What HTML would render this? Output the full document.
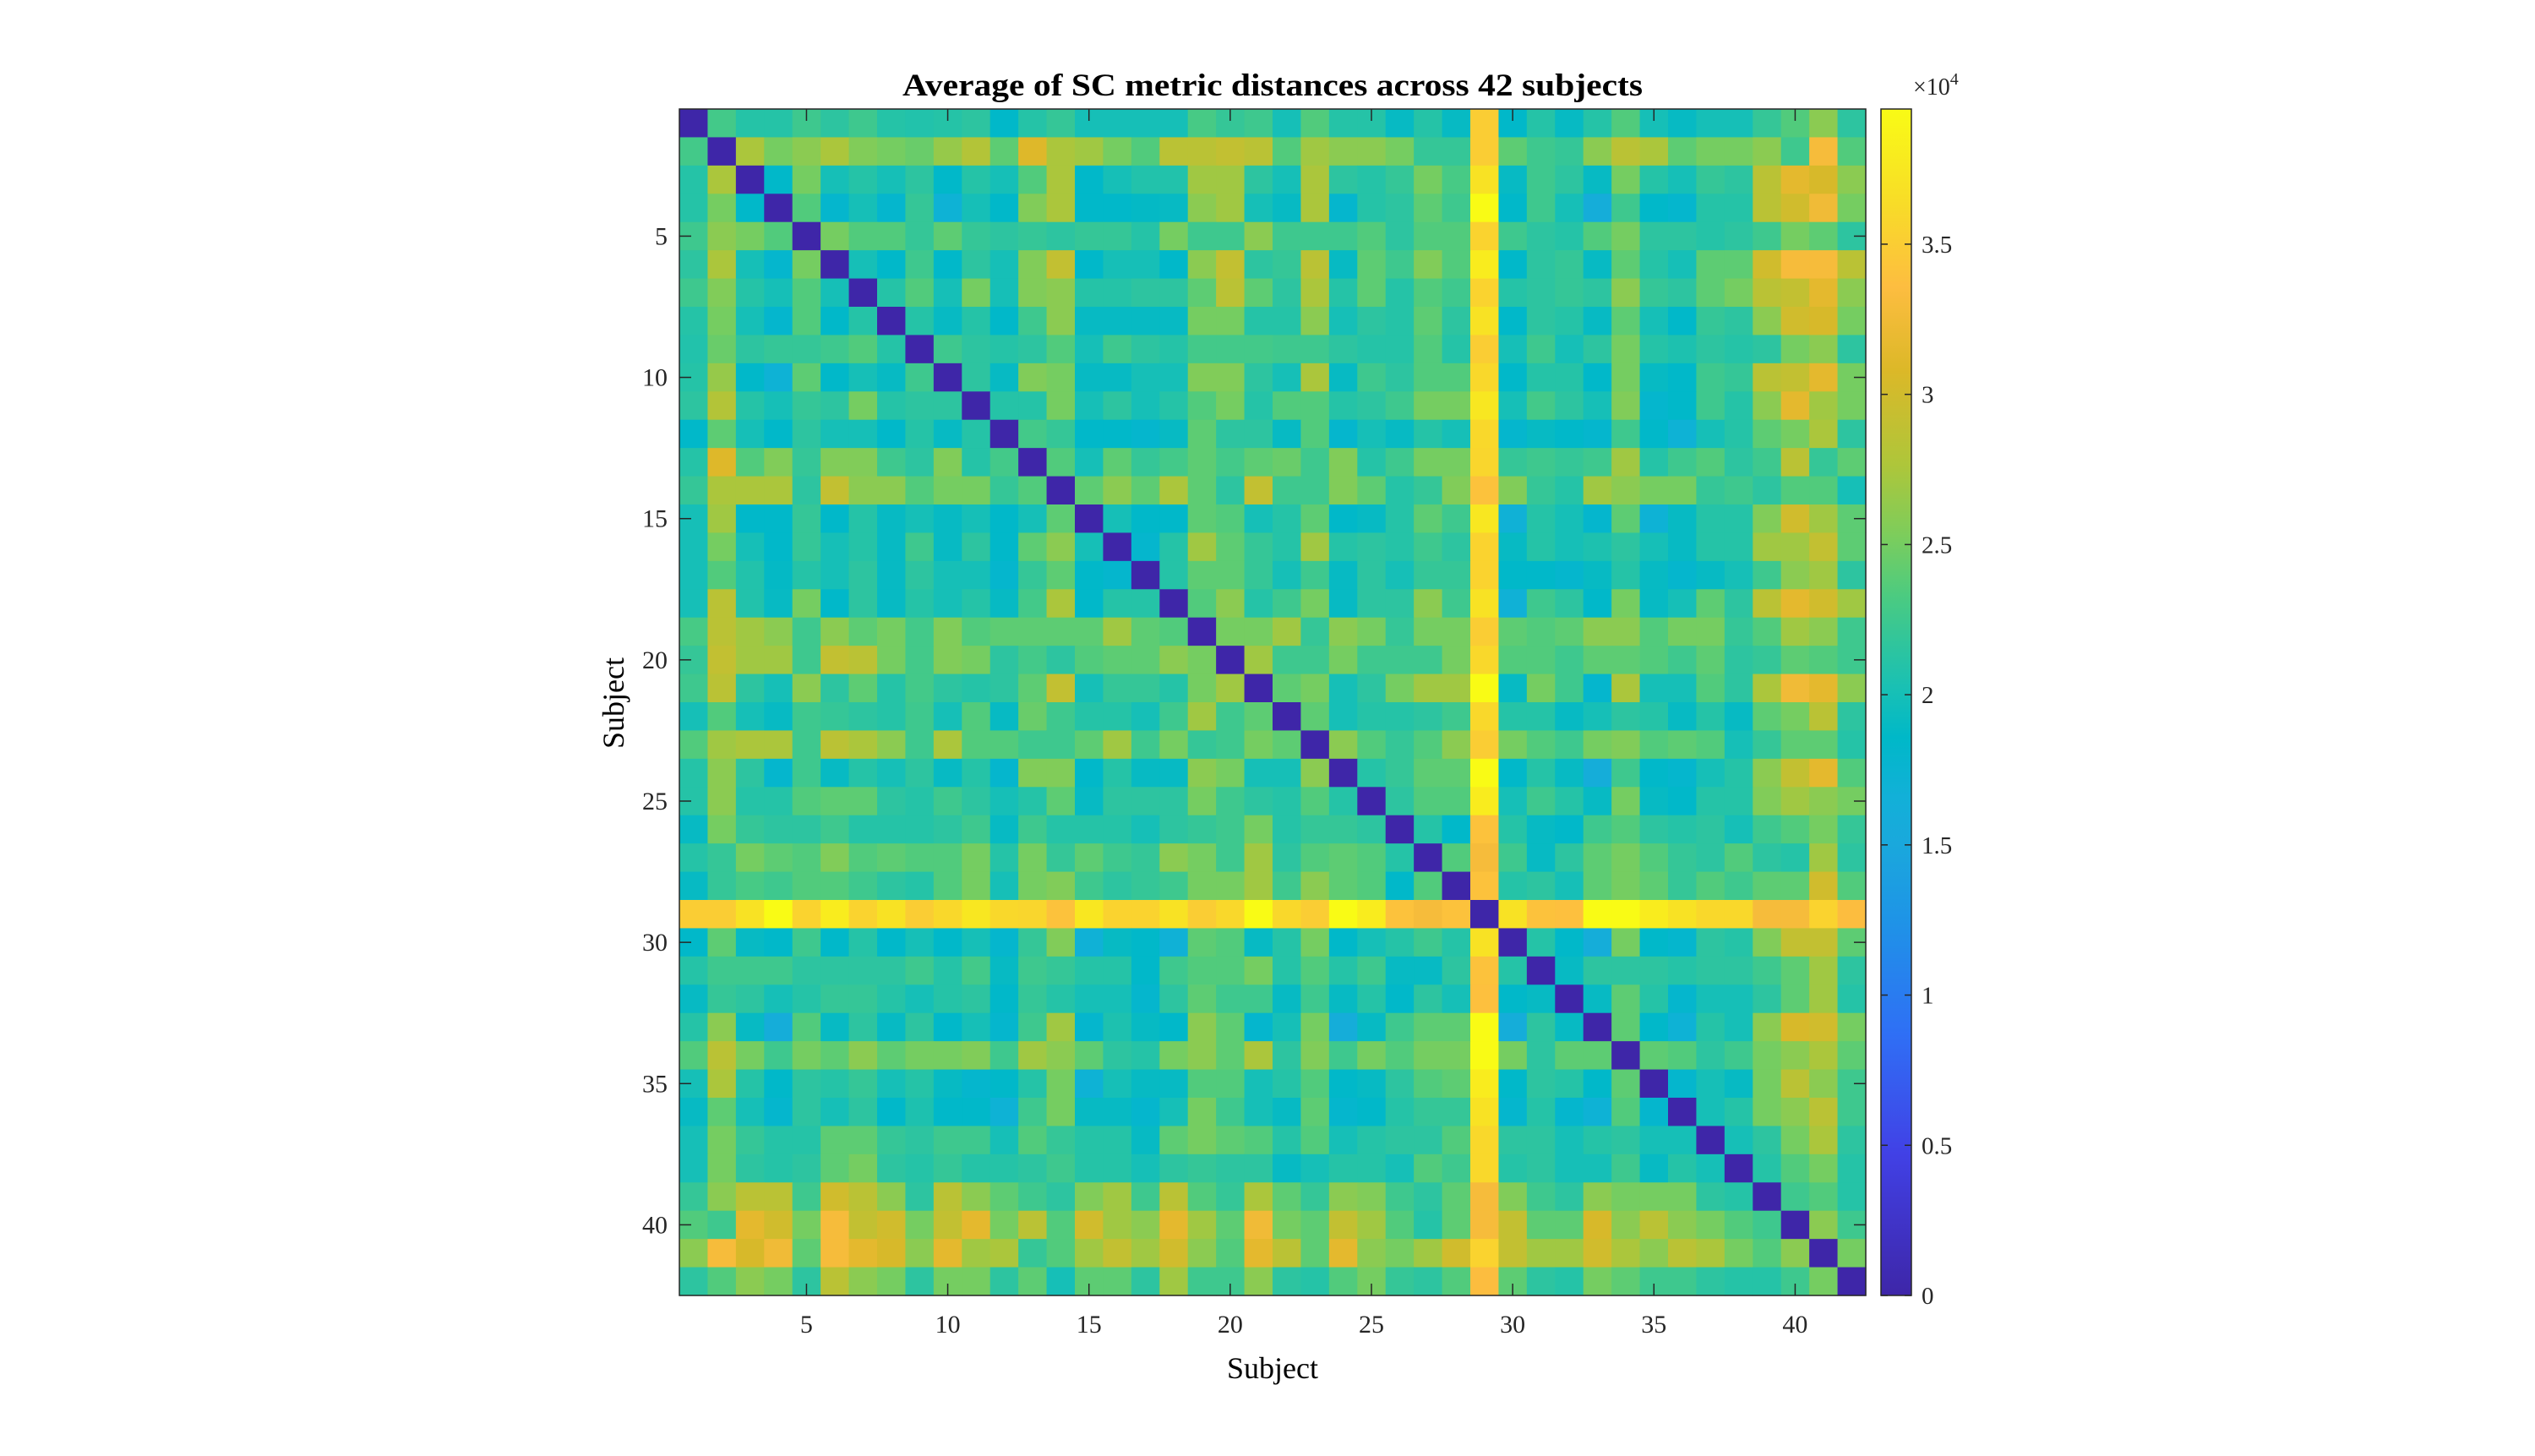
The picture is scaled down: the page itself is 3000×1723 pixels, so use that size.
<!DOCTYPE html>
<html><head><meta charset="utf-8"><style>
html,body{margin:0;padding:0;background:#fff;}
svg{display:block;font-family:"Liberation Serif",serif;}
</style></head><body>
<svg id="chart" width="3000" height="1723" viewBox="0 0 3000 1723" xmlns="http://www.w3.org/2000/svg">
<rect x="0" y="0" width="3000" height="1723" fill="#fff"/>
<defs><linearGradient id="cbgrad" x1="0" y1="1" x2="0" y2="0"></linearGradient></defs>
<g id="cells"></g>
<g id="axes"></g>
<text x="1506" y="113" text-anchor="middle" font-size="37" font-weight="bold" textLength="876" lengthAdjust="spacingAndGlyphs">Average of SC metric distances across 42 subjects</text>
<text x="1506" y="1631" text-anchor="middle" font-size="36">Subject</text>
<text x="0" y="0" text-anchor="middle" font-size="36" transform="translate(738,832) rotate(-90)">Subject</text>
<g id="cbar"></g>
<text x="2264" y="112" font-size="28" fill="#262626">×10<tspan dy="-12" font-size="20">4</tspan></text>
</svg>
<script>
const subjects = Array.from({length:42},(_,i)=>i+1);
const tickLabels = [5,10,15,20,25,30,35,40];
const cbTicks = [0,0.5,1,1.5,2,2.5,3,3.5];
const cbTickScale = 10000;
const cmin = 0, cmax = 39500;
// upper triangle values (thousands), row i holds columns i+1..42
const upper = [
[22.8,21,21,22.5,21.5,22.5,21,20.8,21,21.5,18.5,21,22,20,20,20,20,23,22,22.5,20,23.5,21,21,19,21,19,35,18.5,21,19,21,23.5,20,19,20,20,22,23.5,26,21.5],
[27.5,25,26,27.5,25.5,25,24.5,26.5,28,24,31,27.5,27,25,23.5,28.5,28.5,29,28.5,23.5,27,26,26,25,22,22,35,24,22.5,22,26,28.5,27.5,24,25,25,26,22.5,33,23.5],
[18.5,25,20,21,20,21.5,18.5,21,20,23.5,27.5,18.5,20,20.8,20.8,27,27,21.5,20,27.5,21.5,21,22,25,23,37,19,22.5,21.5,19,25,21,20,22,21.5,28.5,31.5,30.5,26],
[23.5,18,20,18,22,17,20,18.5,25.5,27.5,18.5,18.5,18.8,19,26,27,20,19,27.5,18,21,21.5,24,22.5,39.5,18.5,22.5,20,16,22.5,18.5,18,21,21,28.5,30,32.5,25],
[25,23.5,23.5,22,24,22,21.5,22,21.5,22,22,21,25,22.5,22.5,26,22.5,22.5,22.5,23.5,21.5,23.5,23.5,35.5,22.5,21.5,21,23.5,25,21.5,21.5,21,21.5,22.5,25,24,21.5],
[20,18.5,22.5,18.5,21.5,20,25.5,29,18.5,20,20,18.5,26,29,21.5,22,28.5,19,24,22.5,25.5,23.5,38,18.5,21.5,22,19,24,21,20,24,24,30,33,33,28.5],
[21,23.5,20,25,20,25.5,26,21,21,21.5,21.5,24,28.5,24,21.5,27.5,21,24,21,23.5,22.5,35.5,21,21.5,22,21.5,26,22,21.5,24,25,28.5,29,31.5,26],
[21,19,21,18.5,22.5,26,19,19,19,19,25,25,21,21,26,20,21.5,21,24,21.5,37,18.5,21.5,21,19,24,20,18.5,22,21.5,26,30,30.5,25],
[22.5,21.5,21,21.5,23.5,20,22.5,21.5,21,22.8,22.8,22.8,22.5,22.5,21.5,21,21,23.5,21,35,20,22.5,20,21.5,25,21,20.5,21.5,21,21.5,25,26,21.5],
[21.5,19,25.5,25,19,19,20,20,25.5,25.5,21.5,20,27.5,19,22.5,21.5,23.5,23.5,36,18.5,21,21,18.5,25,19,18.5,22.5,22,28.5,29,31.5,25],
[21,21,25,20,21.5,20,21,23.5,25,21,23.5,23.5,21,21.5,22.5,25,25,37.5,20,22.8,21.5,20,25.5,18,18.5,22.5,21,26,31.5,27,25],
[22.8,22,18.5,18.5,18,19,24,21.5,21.5,19,23.5,18,20,19,21,20,36,18,19,18.5,18,22.5,18.5,17,20,21,24,25,27.5,21.5],
[23.5,20,24,22,22.8,24,22.8,24,24.5,22.5,25.5,21,22.5,25,25,35.8,22,22.5,22,22.5,27,21,22.5,23.5,21.5,22.5,28.5,22,24],
[24,26,24,27.5,24,21.5,29,22.5,22.5,25.5,24,21,22,25.5,34,25.5,22,21,27,26,25,25,22,22.5,21.5,23.5,23.5,20],
[20,18.5,18.5,24,23.5,20,21,24,18.5,19,21,24,22.5,37.5,16.8,21,20,18,24,17,19,21,21,25.5,30,27,24],
[18,21,27,24,22,21,27,21,21.5,21,22.5,21.5,35.5,19,21,20,20.5,21.5,20,19,21,21,27,27,29,24],
[21,24,24,22,20,22.5,19,21.5,20,22,22,35.5,18.5,18.5,18,19,21,19,18,19,20,22.5,26,27,21.5],
[23.5,26,21,22.5,25,19,21.5,21.5,26,22.5,37,16.8,22.5,21.5,18.5,25,19,20,24,21.5,28.5,31.5,30,27],
[25,25,27,22,26,25,22,25,25,35,24,23.5,24,26,26,23.5,25,25,22,23.5,27,26,22.5],
[27,22.5,22.5,25,22.5,22.5,22.5,25,36,23.5,23.5,22.5,24,24,23.5,22.5,24,21.5,22,24,23.5,22.5],
[24,25,20,21.5,25,27,27,39.5,19,25,22.5,18,27.5,20,20,23.5,21.5,27.5,32.5,31.5,26],
[24,20,21,21,21.5,22.5,36,21,21,19,20,21.5,21,19,21,19,24,25,28.5,21.5],
[26,23.5,22,23.5,26,35,25,23.5,22.5,25,25.5,23.5,24,23.5,20,22,24,24,21],
[21,22,24,24,39.5,18.5,21,19,16,22.5,18.5,18,20,21,26,29,31.5,23.5],
[21.5,23.5,23.5,38,20,22.5,21,19,25,19,18.5,21,21,25.5,27,26,25],
[21,18.5,34,21,19,18.5,22.5,23.5,21.5,21,21.5,20,22.5,23.5,25,22],
[23.5,33,22.5,19,21.5,24,25,23.5,22,21.5,23.5,21.5,21,27,21.5],
[34,21,21.5,20,24,25,24,22,23.5,22.5,24,24,30,23.5],
[37,34,33.8,39.5,39.5,38,37,36,36,33,33,35.5,33.5],
[21,18.5,16,25,18.5,18,21.5,21,25.5,29,29,24],
[19,21.5,21.5,21.5,21,21.5,21.5,22.5,24,27,21.5],
[19,24,21,18,20,20,21.5,24,27,21],
[24,18.5,17,21,20,26,30.5,30,25],
[24,23.5,21.5,22.5,25,26,27.5,24],
[18,20,19,25,28.5,26,22.5],
[20,21,25,26,28.5,22.5],
[20,21.5,25,27.5,21.5],
[21,23.5,25,21],
[22.5,23.5,21],
[26,22.5],
[25],
[]
];
const diagValue = 0;

// parula-like colormap stops
const stops = [[0,'#3e26a8'],[0.12,'#4141e6'],[0.22,'#2f6ff5'],[0.32,'#1e95e6'],[0.38,'#1aa8dc'],[0.42,'#12b0d8'],[0.47,'#00b8c8'],[0.51,'#18c0b5'],[0.55,'#30c59c'],[0.59,'#4ccb80'],[0.64,'#7ccd5c'],[0.70,'#aec63a'],[0.78,'#dcb828'],[0.85,'#fdbd40'],[0.92,'#f8dc28'],[1,'#f9fb15']];
function hex(h){return [1,3,5].map(i=>parseInt(h.substr(i,2),16));}
function cmap(t){
  t=Math.max(0,Math.min(1,t));
  for(let i=1;i<stops.length;i++){
    if(t<=stops[i][0]){
      const a=stops[i-1],b=stops[i],f=(t-a[0])/(b[0]-a[0]);
      const ca=hex(a[1]),cb=hex(b[1]);
      return 'rgb('+ca.map((v,k)=>Math.round(v+(cb[k]-v)*f)).join(',')+')';
    }
  }
  return stops[stops.length-1][1];
}
const NS='http://www.w3.org/2000/svg';
const L=804,T=129,W=1404,H=1404,N=subjects.length;
const cw=W/N, ch=H/N;
const xPos=s=>L+(s-1)*cw;
const yPos=s=>T+(s-1)*ch;
function val(i,j){ // 1-based
  if(i===j) return diagValue;
  const a=Math.min(i,j),b=Math.max(i,j);
  return upper[a-1][b-a-1]*1000;
}
const cells=document.getElementById('cells');
subjects.forEach(i=>{subjects.forEach(j=>{
  const r=document.createElementNS(NS,'rect');
  r.setAttribute('x',xPos(j).toFixed(2));
  r.setAttribute('y',yPos(i).toFixed(2));
  r.setAttribute('width',(cw+0.6).toFixed(2));
  r.setAttribute('height',(ch+0.6).toFixed(2));
  r.setAttribute('fill',cmap((val(i,j)-cmin)/(cmax-cmin)));
  
  
  cells.appendChild(r);
});});
const axes=document.getElementById('axes');
function line(x1,y1,x2,y2,g,w){const l=document.createElementNS(NS,'line');l.setAttribute('x1',x1);l.setAttribute('y1',y1);l.setAttribute('x2',x2);l.setAttribute('y2',y2);l.setAttribute('stroke','#262626');l.setAttribute('stroke-width',w||1.5);g.appendChild(l);return l;}
function text(x,y,s,anchor,g,fs){const t=document.createElementNS(NS,'text');t.setAttribute('x',x);t.setAttribute('y',y);t.setAttribute('text-anchor',anchor);t.setAttribute('font-size',fs||30);t.setAttribute('fill','#262626');t.textContent=s;g.appendChild(t);return t;}
const box=document.createElementNS(NS,'rect');
box.setAttribute('x',L);box.setAttribute('y',T);box.setAttribute('width',W);box.setAttribute('height',H);
box.setAttribute('fill','none');box.setAttribute('stroke','#262626');box.setAttribute('stroke-width','1.5');


axes.appendChild(box);
tickLabels.forEach(v=>{
  const cx=xPos(v)+cw/2, cy=yPos(v)+ch/2;
  line(cx,T+H,cx,T+H-14,axes);line(cx,T,cx,T+14,axes);
  line(L,cy,L+14,cy,axes);line(L+W,cy,L+W-14,cy,axes);
  const tx=text(cx,T+H+44,String(v),'middle',axes);
  
  
  const ty=text(L-14,cy+10,String(v),'end',axes);
  
  
});
// colorbar
const grad=document.getElementById('cbgrad');
stops.forEach(s=>{const st=document.createElementNS(NS,'stop');st.setAttribute('offset',s[0]);st.setAttribute('stop-color',s[1]);grad.appendChild(st);});
const cb=document.getElementById('cbar');
const CX=2226,CW=36;
const cyPos=v=>T+H-(v-cmin)/(cmax-cmin)*H;
const cr=document.createElementNS(NS,'rect');
cr.setAttribute('x',CX);cr.setAttribute('y',T);cr.setAttribute('width',CW);cr.setAttribute('height',H);
cr.setAttribute('fill','url(#cbgrad)');cr.setAttribute('stroke','#262626');cr.setAttribute('stroke-width','1.5');


cb.appendChild(cr);
cbTicks.forEach(v=>{
  const y=cyPos(v*cbTickScale);
  line(CX,y,CX+8,y,cb);line(CX+CW,y,CX+CW-8,y,cb);
  const t=text(CX+CW+12,y+10,String(v),'start',cb,29);
  
  
});
</script>
</body></html>
